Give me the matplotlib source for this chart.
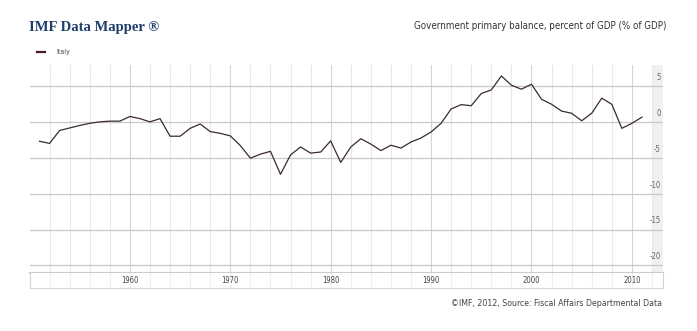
import matplotlib
matplotlib.use("Agg")
import matplotlib.pyplot as plt

years = list(range(1951, 2012))
italy = [-2.7, -3.0, -1.2, -0.85, -0.5, -0.2, 0.0, 0.1, 0.1, 0.75,
         0.45, 0.0, 0.45, -2.0, -2.0, -0.9, -0.3, -1.35, -1.6, -1.95,
         -3.3, -5.05, -4.5, -4.1, -7.3, -4.6, -3.5, -4.35, -4.2, -2.65,
         -5.65, -3.5, -2.35, -3.1, -4.0, -3.25, -3.65, -2.8, -2.25, -1.4,
         -0.2, 1.8, 2.4, 2.25, 3.95, 4.45, 6.4, 5.1, 4.55, 5.25,
         3.15, 2.45, 1.5, 1.2, 0.15, 1.2, 3.3, 2.45, -0.9, -0.2, 0.65]
ytick_vals = [5, 0, -5, -10, -15, -20]
xtick_years = [1960, 1970, 1980, 1990, 2000, 2010]

W, H = 697, 331
fig = plt.figure(figsize=(W / 100, H / 100), dpi=100)
narrow = ['Liberation Sans Narrow', 'DejaVu Sans']

def fx(px):
    return px / W

def fy(py):
    return 1 - py / H

x0, x1 = 1950.0, 2013.1
left, right = 29.5, 663
ax = fig.add_axes([fx(left), fy(273), fx(right - left), fy(65) - fy(273)])
ax.set_xlim(x0, x1)
ax.set_ylim(-21.05, 7.92)

# grey strip behind the value labels
strip_x = x0 + (652 - left) / 10.04
ax.axvspan(strip_x, x1, color='#f0f0f0', lw=0, zorder=0)

for yr in range(1952, 2013, 2):
    c = '#d6d6d6' if yr % 10 == 0 else '#e8e8e8'
    ax.axvline(yr, color=c, lw=0.8, zorder=1)
for v in ytick_vals:
    ax.axhline(v, color='#c8c8c8', lw=0.9, zorder=1)
    ax.text(x1 - 0.25, v + 1.2, str(v), ha='right', va='center',
            fontsize=5.5, color='#666666', family=narrow, fontstretch='condensed')

ax.plot(years, italy, color='#3b2a2f', lw=0.9, zorder=3)

for s in ax.spines.values():
    s.set_visible(False)
ax.spines['bottom'].set_visible(True)
ax.spines['bottom'].set_color('#cccccc')
ax.spines['bottom'].set_linewidth(1.5)
ax.set_xticks([])
ax.set_yticks([])

# year label box
bx = fig.add_axes([fx(left), fy(287.5), fx(right - left), fy(273) - fy(287.5)])
bx.set_xlim(x0, x1)
bx.set_ylim(0, 1)
for yr in range(1952, 2013, 2):
    bx.axvline(yr, color='#f0f0f0', lw=0.8, zorder=1)
for yr in xtick_years:
    bx.text(yr, 0.45, str(yr), ha='center', va='center', fontsize=5.5,
            color='#444444', family=narrow, fontstretch='condensed')
for s in bx.spines.values():
    s.set_color('#d4d4d4')
    s.set_linewidth(0.8)
bx.spines['top'].set_visible(False)
bx.set_xticks([])
bx.set_yticks([])

fig.text(fx(29), fy(27), 'IMF Data Mapper \u00ae', ha='left', va='center',
         fontsize=10.5, fontweight='bold', color='#1f3d6b',
         family=['Liberation Serif', 'DejaVu Serif'])
fig.text(fx(666), fy(26), 'Government primary balance, percent of GDP (% of GDP)',
         ha='right', va='center', fontsize=7.0, color='#333333', family=narrow,
         fontstretch='condensed')

fig.add_artist(plt.Line2D([fx(37), fx(45)], [fy(51.7), fy(51.7)],
                          color='#4a1a28', lw=1.6))
fig.text(fx(56), fy(51.7), 'Italy', ha='left', va='center', fontsize=5,
         color='#444444', family=narrow, fontstretch='condensed')

fig.text(fx(662), fy(303.5), '\u00a9IMF, 2012, Source: Fiscal Affairs Departmental Data',
         ha='right', va='center', fontsize=6.3, color='#444444', family=narrow,
         fontstretch='condensed')

fig.savefig('out.png', dpi=100, facecolor='white')
